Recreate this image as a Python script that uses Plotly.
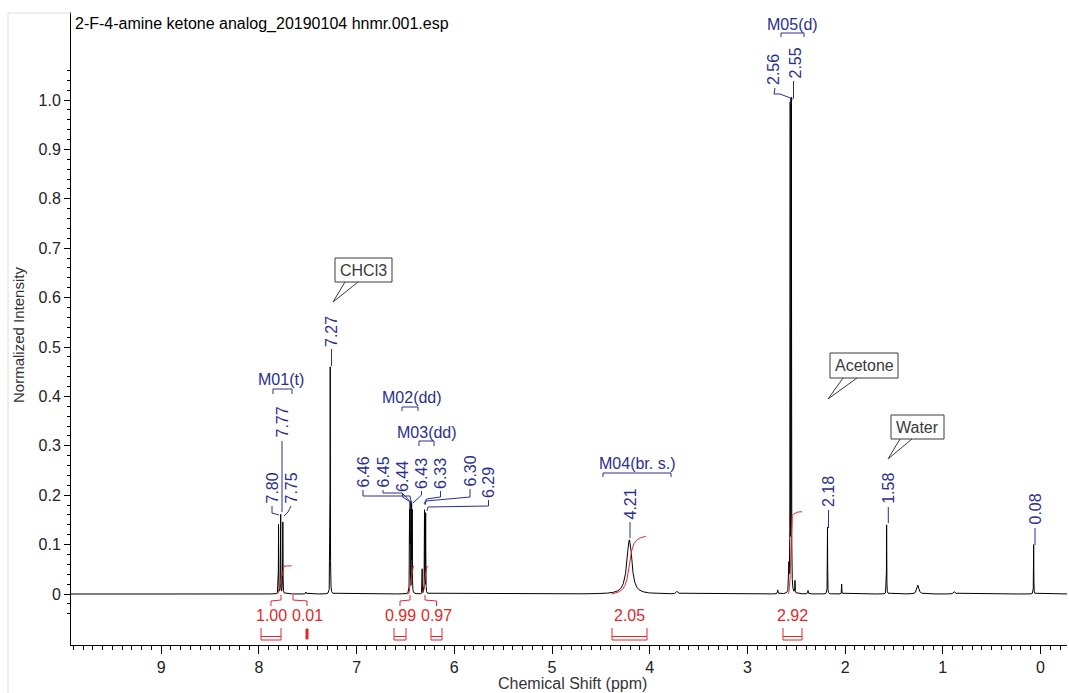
import numpy as np
import plotly.graph_objects as go

# ------------------------------------------------------------------ data
TITLE = "2-F-4-amine ketone analog_20190104 hnmr.001.esp"

peak_ppm    = [7.799, 7.777, 7.755, 7.52, 7.27, 6.458, 6.452, 6.437, 6.431, 6.329, 6.305, 6.293,
               4.212, 4.195, 3.72, 2.69, 2.575, 2.562, 2.550, 2.513, 2.38, 2.18, 2.035, 1.575,
               1.255, 0.88, 0.07]
peak_height = [0.14, 0.16, 0.145, 0.004, 0.46, 0.16, 0.175, 0.175, 0.16, 0.05, 0.168, 0.162,
               0.09, 0.03, 0.005, 0.008, 0.05, 0.98, 0.99, 0.025, 0.007, 0.135, 0.02, 0.14,
               0.018, 0.005, 0.1]
peak_hwhm   = [0.0015, 0.0015, 0.0015, 0.003, 0.0015, 0.0015, 0.0015, 0.0015, 0.0015, 0.0012,
               0.0015, 0.0015, 0.03, 0.02, 0.01, 0.003, 0.002, 0.0015, 0.0015, 0.002, 0.003,
               0.0015, 0.0015, 0.0015, 0.012, 0.01, 0.0015]

x_tick_vals = [0, 1, 2, 3, 4, 5, 6, 7, 8, 9]
y_tick_vals = [0, 0.1, 0.2, 0.3, 0.4, 0.5, 0.6, 0.7, 0.8, 0.9, 1.0]
y_tick_text = ["0", "0.1", "0.2", "0.3", "0.4", "0.5", "0.6", "0.7", "0.8", "0.9", "1.0"]

int_text  = ["1.00", "0.01", "0.99", "0.97", "2.05", "2.92"]
int_value = [1.00, 0.01, 0.99, 0.97, 2.05, 2.92]
int_start = [7.81, 7.70, 6.48, 6.345, 4.39, 2.585]
int_end   = [7.665, 7.45, 6.41, 6.265, 4.04, 2.44]

pick_text = ["7.80", "7.77", "7.75", "7.27", "6.46", "6.45", "6.44", "6.43", "6.33", "6.30",
             "6.29", "4.21", "2.56", "2.55", "2.18", "1.58", "0.08"]
mult_text = ["M01(t)", "M02(dd)", "M03(dd)", "M04(br. s.)", "M05(d)"]
solvent_text = ["CHCl3", "Acetone", "Water"]

# ------------------------------------------------------------------ geometry helpers
W, H = 1069, 693
L, R, T, B = 71, 1067, 12, 645
PPM0_PX, PX_PER_PPM = 1040.5, 97.7
Y0_PX, PX_PER_UNIT = 594.0, 494.0


def X(px):
    return (PPM0_PX - px) / PX_PER_PPM


def Y(py):
    return (Y0_PX - py) / PX_PER_UNIT


def PX(px):
    return (px - L) / (R - L)


def PY(py):
    return (B - py) / (B - T)


def path(pts):
    return "M " + " L ".join(f"{X(a):.5f},{Y(b):.5f}" for a, b in pts)


BLUE = "#2B2F8C"
RED = "#E02828"
GREY = "#3A3A3A"
FONT = "Liberation Sans, Arial, sans-serif"

# ------------------------------------------------------------------ spectrum
ppm = np.union1d(np.arange(-0.3, 9.95, 0.0004), np.array(peak_ppm))
spec = np.zeros_like(ppm)
for c, h, w in zip(peak_ppm, peak_height, peak_hwhm):
    spec += h / (1.0 + ((ppm - c) / w) ** 2)

fig = go.Figure()
fig.add_trace(go.Scatter(x=np.round(ppm, 5), y=np.round(spec, 5), mode="lines",
                         line=dict(color="black", width=1), hoverinfo="skip"))

K = 0.057
for val, a, b in zip(int_value, int_start, int_end):
    if val < 0.05:
        continue
    m = (ppm <= a) & (ppm >= b)
    xs = ppm[m][::-1]
    ys = spec[m][::-1]
    cs = np.cumsum(ys)
    cs = cs / cs[-1] * val * K
    fig.add_trace(go.Scatter(x=np.round(xs, 5), y=np.round(cs, 5), mode="lines",
                             line=dict(color=RED, width=1), hoverinfo="skip"))

shapes = []
annotations = []

# ------------------------------------------------------------------ peak picks (blue)
pick_layout = [
    (272, 504, [(272, 506), (272, 513), (279, 515)]),
    (282, 438, [(282, 441), (282, 512)]),
    (291, 504, [(291, 506), (288, 512), (284, 516)]),
    (331.5, 347, [(331.5, 349), (331.5, 366)]),
    (363, 488, [(363, 490), (363, 496), (410, 496), (411.5, 504)]),
    (383, 488, [(383, 490), (383, 493), (402, 493), (411.5, 503)]),
    (402.5, 492, [(402.5, 494), (402.5, 497), (412, 503)]),
    (421.5, 489, [(421.5, 491), (421.5, 495), (413, 503)]),
    (440.5, 489, [(440.5, 491), (440.5, 497), (426.5, 499), (424, 504)]),
    (470, 487, [(470, 489), (470, 497), (426, 501), (425, 505)]),
    (488.5, 498, [(488.5, 500), (488.5, 506), (428, 507), (427, 511)]),
    (630, 520, [(630, 522), (630, 538)]),
    (773.5, 85, [(775, 88), (774, 94), (780, 94), (790.5, 98), (790.5, 102)]),
    (795, 79, [(793.5, 81), (793.5, 98), (791.5, 100)]),
    (828.5, 507, [(828.5, 510), (828.5, 528)]),
    (888.3, 504, [(888.3, 507), (888.3, 523)]),
    (1035, 525, [(1035, 528), (1035, 545)]),
]
for txt, (tx, tb, pts) in zip(pick_text, pick_layout):
    annotations.append(dict(x=X(tx), y=Y(tb + 2), xref="x", yref="y", text=txt,
                            showarrow=False, textangle=-90, xanchor="center", yanchor="bottom",
                            font=dict(family=FONT, size=16, color=BLUE)))
    shapes.append(dict(type="path", xref="x", yref="y", path=path(pts),
                       line=dict(color=BLUE, width=1)))

# ------------------------------------------------------------------ multiplet labels
mult_layout = [
    (281, 379, 273, 292, 389, 394),
    (411.5, 397.5, 402, 418, 407, 411),
    (427, 432.5, 419, 434, 441, 446),
    (637, 463, 603, 671, 473, 477),
    (792.5, 24, 781, 804, 33, 37),
]
for txt, (cx, cy, x1, x2, yt, yb) in zip(mult_text, mult_layout):
    annotations.append(dict(x=X(cx), y=Y(cy), xref="x", yref="y", text=txt, showarrow=False,
                            xanchor="center", yanchor="middle",
                            font=dict(family=FONT, size=16, color=BLUE)))
    shapes.append(dict(type="path", xref="x", yref="y",
                       path=path([(x1, yb), (x1, yt), (x2, yt), (x2, yb)]),
                       line=dict(color=BLUE, width=1)))

# ------------------------------------------------------------------ solvent callouts
solv_layout = [
    (335, 392, 258, 282, 345, 358, 333, 302),
    (830, 898, 353, 378, 843, 857, 828, 399),
    (891, 944, 415, 439, 900, 912, 888, 459),
]
for txt, (x1, x2, y1, y2, b1, b2, tpx, tpy) in zip(solvent_text, solv_layout):
    shapes.append(dict(type="rect", xref="x", yref="y", x0=X(x1), x1=X(x2), y0=Y(y2), y1=Y(y1),
                       line=dict(color=GREY, width=1), fillcolor="white"))
    shapes.append(dict(type="path", xref="x", yref="y",
                       path=path([(b1, y2), (tpx, tpy), (b2, y2)]),
                       line=dict(color=GREY, width=1)))
    annotations.append(dict(x=X((x1 + x2) / 2), y=Y((y1 + y2) / 2), xref="x", yref="y",
                            text=txt, showarrow=False, xanchor="center", yanchor="middle",
                            font=dict(family=FONT, size=16, color=GREY)))

# ------------------------------------------------------------------ integration labels
brk = [(261, 281), (307, 307), (394, 406), (431, 442), (612, 647), (783, 802)]
conn = [
    [(281, 595), (281, 600), (271, 601), (271, 606)],
    [(293, 595), (293, 600), (307, 601), (307, 606)],
    [(410, 595), (410, 600), (400, 601), (400, 606)],
    [(425, 595), (425, 600), (436.5, 601), (436.5, 606)],
    None,
    None,
]
for txt, (x1, x2), cp in zip(int_text, brk, conn):
    cx = (x1 + x2) / 2
    annotations.append(dict(x=X(cx), y=Y(615), xref="x", yref="y", text=txt, showarrow=False,
                            xanchor="center", yanchor="middle",
                            font=dict(family=FONT, size=16, color=RED)))
    if x2 - x1 < 1:
        shapes.append(dict(type="rect", xref="x", yref="y", x0=X(x1 - 1), x1=X(x1 + 1),
                           y0=Y(639), y1=Y(629), line=dict(color=RED, width=1),
                           fillcolor=RED))
    else:
        shapes.append(dict(type="path", xref="x", yref="y",
                           path=path([(x1, 628), (x1, 640), (x2, 640), (x2, 628)]),
                           line=dict(color=RED, width=1)))
        shapes.append(dict(type="path", xref="x", yref="y",
                           path=path([(x1, 636.5), (x2, 636.5)]),
                           line=dict(color=RED, width=1)))
    if cp:
        shapes.append(dict(type="path", xref="x", yref="y", path=path(cp),
                           line=dict(color=RED, width=1)))

# ------------------------------------------------------------------ frame / titles
shapes.append(dict(type="line", xref="paper", yref="paper", x0=PX(8), x1=PX(8),
                   y0=PY(13), y1=PY(693), line=dict(color="#DDDDDD", width=1)))
shapes.append(dict(type="line", xref="paper", yref="paper", x0=PX(8), x1=PX(L),
                   y0=PY(13), y1=PY(13), line=dict(color="#DDDDDD", width=1)))

annotations.append(dict(x=PX(73), y=PY(13), xref="paper", yref="paper", text=TITLE,
                        showarrow=False, xanchor="left", yanchor="top",
                        font=dict(family=FONT, size=16, color="black")))
annotations.append(dict(x=PX(572), y=PY(683), xref="paper", yref="paper",
                        text="Chemical Shift (ppm)", showarrow=False,
                        xanchor="center", yanchor="middle",
                        font=dict(family=FONT, size=16, color="#333333")))
annotations.append(dict(x=PX(18), y=PY(335), xref="paper", yref="paper",
                        text="Normalized Intensity", showarrow=False, textangle=-90,
                        xanchor="center", yanchor="middle",
                        font=dict(family=FONT, size=15, color="#333333")))

y_minor = [round(-0.04 + 0.02 * i, 2) for i in range(56)]
y_minor = [v for v in y_minor if abs(v * 10 - round(v * 10)) > 1e-6]

fig.update_layout(
    width=W, height=H,
    margin=dict(l=L, r=W - R, t=T, b=H - B, pad=0, autoexpand=False),
    paper_bgcolor="white", plot_bgcolor="white",
    showlegend=False,
    font=dict(family=FONT, size=16, color="#222222"),
    xaxis=dict(range=[X(L), X(R)], showline=True, linecolor="black", linewidth=1,
               automargin=False,
               ticks="outside", ticklen=8, tickcolor="black", tickwidth=1,
               tickmode="array", tickvals=x_tick_vals,
               tickfont=dict(family=FONT, size=16, color="#222222"),
               showgrid=False, zeroline=False,
               minor=dict(ticks="outside", ticklen=4, tickcolor="black", dtick=0.1,
                          tick0=0, showgrid=False)),
    yaxis=dict(range=[Y(B), Y(T)], showline=True, linecolor="black", linewidth=1,
               automargin=False,
               ticks="outside", ticklen=6, tickcolor="black", tickwidth=1,
               tickmode="array", tickvals=y_tick_vals, ticktext=y_tick_text,
               tickfont=dict(family=FONT, size=16, color="#222222"),
               showgrid=False, zeroline=False,
               minor=dict(ticks="outside", ticklen=3, tickcolor="black",
                          tickmode="array", tickvals=y_minor, showgrid=False)),
    shapes=shapes,
    annotations=annotations,
)

fig.write_html("out.html",
               config={"displayModeBar": False},
               post_script="document.body.style.margin='0px';"
                           "document.body.style.overflow='hidden';")
